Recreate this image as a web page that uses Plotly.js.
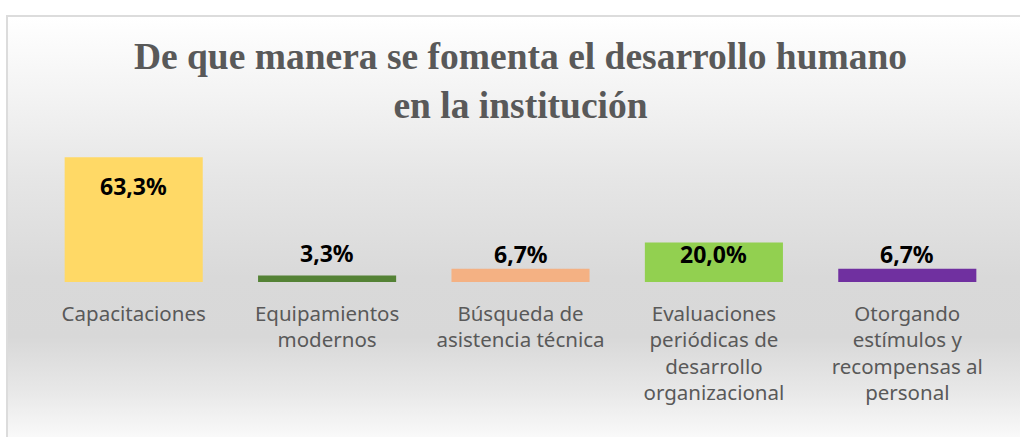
<!DOCTYPE html>
<html>
<head>
<meta charset="utf-8">
<script src="https://cdn.plot.ly/plotly-3.0.1.min.js"></script>
<style>
  html, body { margin: 0; padding: 0; background: #ffffff; }
  #wrap { position: relative; width: 1020px; height: 437px; overflow: hidden; }
  #frame {
    position: absolute; left: 6px; top: 15px; width: 1030px; height: 440px;
    border-top: 2px solid #dcdcdc; border-left: 2px solid #dcdcdc;
    background: linear-gradient(to bottom, #ffffff 0px, #f3f3f3 80px, #e6e6e6 160px, #d9d9d9 260px, #d8d8d8 320px, #e8e8e8 375px, #fafafa 422px);
  }
  #chart { position: absolute; left: 0; top: 0; width: 1020px; height: 437px; }
</style>
</head>
<body>
<div id="wrap">
  <div id="frame"></div>
  <div id="chart"></div>
</div>
<script>
const categories = [
  "Capacitaciones",
  "Equipamientos<br>modernos",
  "Búsqueda de<br>asistencia técnica",
  "Evaluaciones<br>periódicas de<br>desarrollo<br>organizacional",
  "Otorgando<br>estímulos y<br>recompensas al<br>personal"
];
const values = [63.3, 3.3, 6.7, 20.0, 6.7];
const valueLabels = ["63,3%", "3,3%", "6,7%", "20,0%", "6,7%"];
const barColors = ["#ffd966", "#548235", "#f4b183", "#92d050", "#7030a0"];
const chartTitle = "De que manera se fomenta el desarrollo humano<br>en la institución";

// label offsets from bar top (px, style only)
const labelShift = [-29, 22, 15, -11, 15];

const trace = {
  type: "bar",
  x: categories,
  y: values,
  textposition: "none",
  marker: { color: barColors, line: { width: 0 } },
  hoverinfo: "skip"
};

const annotations = categories.map((c, i) => ({
  x: c, y: values[i], xref: "x", yref: "y",
  text: valueLabels[i],
  showarrow: false,
  xanchor: "center", yanchor: "middle",
  yshift: labelShift[i],
  font: { family: "Noto Sans", size: 23, color: "#000000", weight: "bold" }
}));

const layout = {
  width: 1020,
  height: 437,
  paper_bgcolor: "rgba(0,0,0,0)",
  plot_bgcolor: "rgba(0,0,0,0)",
  margin: { l: 37, r: 16, t: 144, b: 155, pad: 0 },
  bargap: 0.286,
  showlegend: false,
  annotations: annotations,
  title: {
    text: chartTitle,
    font: { family: "Liberation Serif", size: 37.5, color: "#595959", weight: "bold" },
    x: 0.5, xref: "paper", xanchor: "center",
    y: 0.842, yref: "container", yanchor: "top"
  },
  xaxis: {
    type: "category",
    showgrid: false, zeroline: false, showline: false, ticks: "",
    tickfont: { family: "Noto Sans", size: 20.5, color: "#595959" },
    ticklabelstandoff: 17,
    fixedrange: true
  },
  yaxis: {
    range: [0, 70],
    visible: false,
    showgrid: false, zeroline: false,
    fixedrange: true
  }
};

Plotly.newPlot("chart", [trace], layout, { staticPlot: true, displayModeBar: false });
</script>
</body>
</html>
